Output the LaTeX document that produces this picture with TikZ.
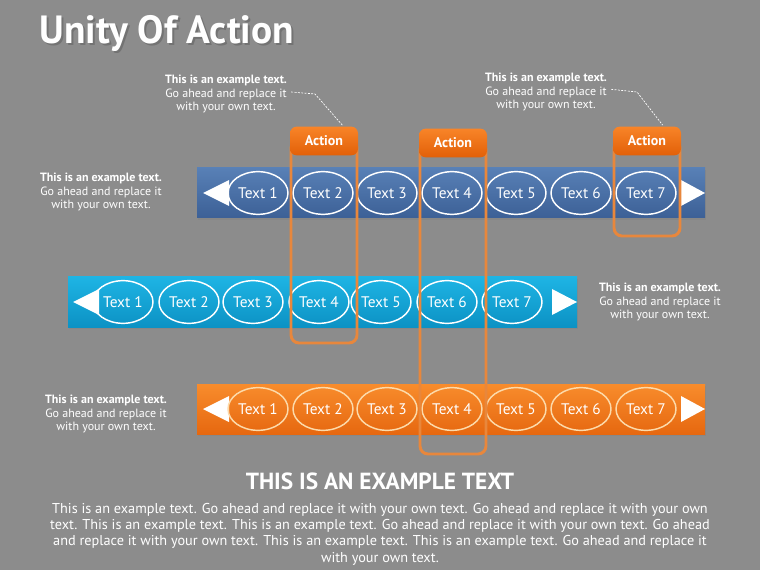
\documentclass[tikz,border=0pt]{standalone}
\usepackage{fontspec}
\setmainfont{PT Sans}
\usetikzlibrary{shapes.geometric,shadows}
\definecolor{bg}{RGB}{140,140,140}
\definecolor{blueT}{RGB}{88,128,182}
\definecolor{blueB}{RGB}{60,96,150}
\definecolor{cyanT}{RGB}{30,180,228}
\definecolor{cyanB}{RGB}{12,146,196}
\definecolor{oraT}{RGB}{248,140,44}
\definecolor{oraB}{RGB}{230,104,16}
\definecolor{frameC}{RGB}{232,135,60}
\definecolor{cream}{RGB}{252,218,170}
\definecolor{hdrT}{RGB}{248,132,40}
\definecolor{hdrB}{RGB}{226,96,8}
\begin{document}
\begin{tikzpicture}[x=0.75pt,y=-0.75pt,
  ell/.style={ellipse,draw=white,line width=1.1pt,minimum width=45pt,minimum height=32pt,inner sep=0pt,text=white,font=\fontsize{11.5}{13}\selectfont},
  ellO/.style={ell,draw=cream},
  bar/.style={drop shadow={shadow xshift=0.8pt,shadow yshift=-1.5pt,opacity=0.35}},
  arrowhd/.style={fill=white},
  frameline/.style={draw=frameC,line width=2.2pt,rounded corners=6pt},
  actionhdr/.style={rectangle,rounded corners=5pt,top color=hdrT,bottom color=hdrB,minimum width=51pt,minimum height=21.5pt,inner sep=0pt,text=white,font=\bfseries\fontsize{10.5}{12}\selectfont},
  callout/.style={align=center,text=white,font=\fontsize{9}{9.8}\selectfont,inner sep=1pt},
  calloutline/.style={draw=white,dash pattern=on 1.5pt off 1pt,line width=0.5pt}
]
\fill[bg] (0,0) rectangle (760,570);
\useasboundingbox (0,0) rectangle (760,570);

% title
\node[anchor=base west,text=black!55,font=\bfseries\fontsize{29.5}{32}\selectfont] at (37,46) {Unity Of Action};
\node[anchor=base west,text=white,font=\bfseries\fontsize{29.5}{32}\selectfont] (title) at (35,44) {Unity Of Action};

% bars
\path[bar,top color=blueT,bottom color=blueB] (197,168) rectangle (705,218);
\path[bar,top color=cyanT,bottom color=cyanB] (68,277) rectangle (577,327);
\path[bar,top color=oraT,bottom color=oraB] (197,384) rectangle (705,434);

% arrows
\fill[arrowhd] (203,193) -- (229,180) -- (229,206) -- cycle;
\fill[arrowhd] (705,193) -- (681,180) -- (681,206) -- cycle;
\fill[arrowhd] (73,302) -- (99,289) -- (99,315) -- cycle;
\fill[arrowhd] (577,302) -- (552,289) -- (552,315) -- cycle;
\fill[arrowhd] (203,409) -- (229,396) -- (229,422) -- cycle;
\fill[arrowhd] (705,409) -- (681,396) -- (681,422) -- cycle;

% row 1
\node[ell] (a1) at (258,193) {Text 1};
\node[ell] (a2) at (323,193) {Text 2};
\node[ell] (a3) at (387,193) {Text 3};
\node[ell] (a4) at (452,193) {Text 4};
\node[ell] (a5) at (516,193) {Text 5};
\node[ell] (a6) at (581,193) {Text 6};
\node[ell] (a7) at (646,193) {Text 7};
% row 2
\node[ell] (b1) at (123,302) {Text 1};
\node[ell] (b2) at (189,302) {Text 2};
\node[ell] (b3) at (253,302) {Text 3};
\node[ell] (b4) at (319,302) {Text 4};
\node[ell] (b5) at (381,302) {Text 5};
\node[ell] (b6) at (447,302) {Text 6};
\node[ell] (b7) at (512,302) {Text 7};
% row 3
\node[ellO] (c1) at (258,409) {Text 1};
\node[ellO] (c2) at (323,409) {Text 2};
\node[ellO] (c3) at (387,409) {Text 3};
\node[ellO] (c4) at (452,409) {Text 4};
\node[ellO] (c5) at (516,409) {Text 5};
\node[ellO] (c6) at (581,409) {Text 6};
\node[ellO] (c7) at (646,409) {Text 7};

% action frames
\draw[frameline] (291,140) rectangle (357,343);
\draw[frameline] (420,142) rectangle (486,454);
\draw[frameline] (614,140) rectangle (680,236);
\node[actionhdr] (h1) at (324,141) {Action};
\node[actionhdr] (h2) at (453,143) {Action};
\node[actionhdr] (h3) at (647,141) {Action};

% callouts
\node[callout] (t1) at (226,94) {\textbf{This is an example text.}\\Go ahead and replace it\\with your own text.};
\node[callout] (t2) at (546,92) {\textbf{This is an example text.}\\Go ahead and replace it\\with your own text.};
\node[callout] (t3) at (101,192) {\textbf{This is an example text.}\\Go ahead and replace it\\with your own text.};
\node[callout] (t4) at (660,302) {\textbf{This is an example text.}\\Go ahead and replace it\\with your own text.};
\node[callout] (t5) at (106,414) {\textbf{This is an example text.}\\Go ahead and replace it\\with your own text.};

\coordinate (k1) at (315,94);
\coordinate (k2) at (637,92);
\draw[calloutline] ([shift={(2pt,1.5pt)}]t1.east) -- (k1) -- ([shift={(-12pt,1pt)}]h1.north east);
\draw[calloutline] ([shift={(2pt,2pt)}]t2.east) -- (k2) -- ([shift={(-14pt,1pt)}]h3.north east);

% bottom text
\node[text=white,font=\bfseries\fontsize{17.5}{20}\selectfont] (head) at (380,481) {THIS IS AN EXAMPLE TEXT};
\node[text=white,align=center,font=\fontsize{10.7}{11.3}\selectfont] (para) at (380,534) {This is an example text. Go ahead and replace it with your own text. Go ahead and replace it with your own\\[0.9pt]text. This is an example text. This is an example text. Go ahead and replace it with your own text. Go ahead\\[0.9pt]and replace it with your own text. This is an example text. This is an example text. Go ahead and replace it\\[0.9pt]with your own text.};
\end{tikzpicture}
\end{document}
